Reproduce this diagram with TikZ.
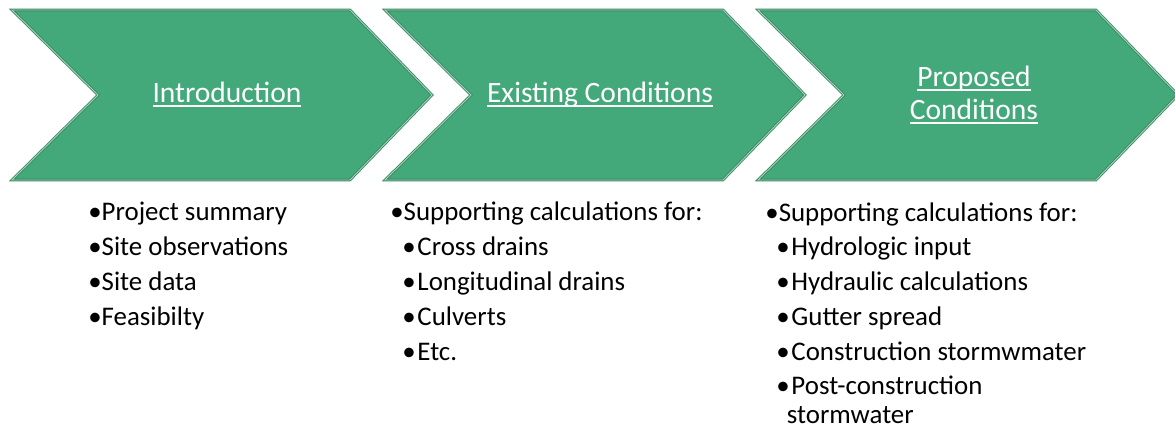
\documentclass[tikz,border=0pt]{standalone}
\usepackage{fontspec}
\setmainfont{Carlito}
\usepackage{tikz}

\definecolor{chevgreen}{RGB}{67,168,122}
\definecolor{chevedge}{RGB}{52,138,96}
\newsavebox\ulbox
\newcommand\hdul[1]{\sbox\ulbox{#1}\rlap{\rule[-2.6pt]{\wd\ulbox}{1pt}}\usebox\ulbox}

\begin{document}
\begin{tikzpicture}[x=0.02cm, y=-0.02cm,
    every node/.style={inner sep=0pt},
    chevron/.style={fill=chevgreen, draw=chevedge, double={rgb,255:red,170;green,210;blue,188}, double distance=0.5pt, line width=0.5pt},
    head/.style={text=white, font=\fontsize{16.8}{18.7}\selectfont, align=center},
    item/.style={anchor=base west, font=\fontsize{15.3}{16}\selectfont, align=left}]
    \useasboundingbox (0, 0) rectangle (1175, 429);

    % the three chevrons
    \foreach \a in {12, 385, 758}
      \draw [chevron] (\a, 10) -- (\a+338, 10) -- (\a+420, 95) -- (\a+338, 180)
        -- (\a, 180) -- (\a+86, 95) -- cycle;

    \node [head, anchor=base] (h1) at (227, 102) {\hdul{Introduction}};
    \node [head, anchor=base] (h2) at (600, 102) {\hdul{Existing Conditions}};
    \node [head] (h3) at (974, 95) {\hdul{Proposed}\\\hdul{Conditions}};

    % first column
    \node [item] (a1) at (88, 220) {•Project summary};
    \node [item] (a2) at (88, 255) {•Site observations};
    \node [item] (a3) at (88, 290) {•Site data};
    \node [item] (a4) at (88, 325) {•Feasibilty};

    % second column
    \node [item] (b1) at (390, 220) {•Supporting calculations for:};
    \node [item] (b2) at (402, 255) {•\hspace{1pt}Cross drains};
    \node [item] (b3) at (402, 290) {•\hspace{1pt}Longitudinal drains};
    \node [item] (b4) at (402, 325) {•\hspace{1pt}Culverts};
    \node [item] (b5) at (402, 360) {•\hspace{1pt}Etc.};

    % third column
    \node [item] (c1) at (765, 221) {•Supporting calculations for:};
    \node [item] (c2) at (776, 255) {•\hspace{1pt}Hydrologic input};
    \node [item] (c3) at (776, 290) {•\hspace{1pt}Hydraulic calculations};
    \node [item] (c4) at (776, 325) {•\hspace{1pt}Gutter spread};
    \node [item] (c5) at (776, 360) {•\hspace{1pt}Construction stormwmater};
    \node [item] (c6) at (776, 423) {•\hspace{1pt}Post-construction\\\hspace*{6pt}stormwater};
  \end{tikzpicture}
\end{document}
